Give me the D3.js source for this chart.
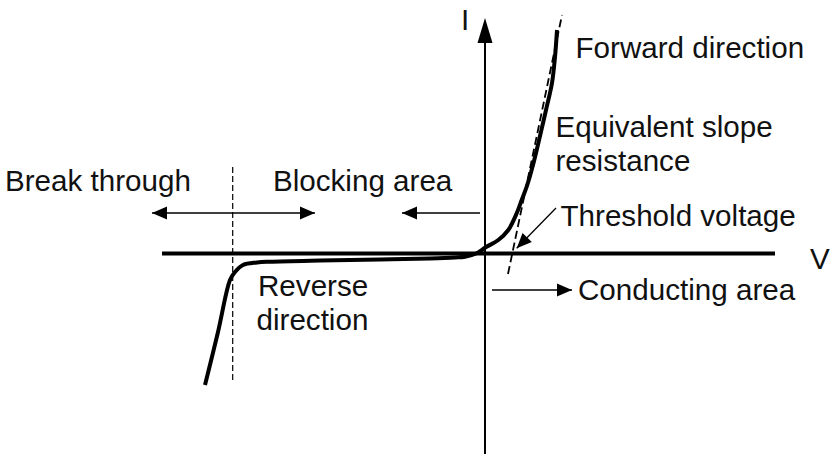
<!DOCTYPE html>
<html>
<head>
<meta charset="utf-8">
<script src="https://cdn.jsdelivr.net/npm/d3@7"></script>
<style>
  html, body { margin: 0; padding: 0; background: #fff; }
  svg { display: block; }
  text { font-family: "Liberation Sans", Arial, sans-serif; font-size: 29.6px; fill: #111; }
</style>
</head>
<body>
<svg id="chart" width="839" height="463"></svg>
<script>
// ---- data (V in arbitrary units, I in arbitrary units) ----
const curveV = [-28.05, -26.75, -25.55, -25.05, -24.25, -22.85, -21.55, -16.55, -10.55, -5.55, -3.05, -2.05, -0.88, 0.02, 1.28, 2.28, 3.12, 3.62, 4.12, 4.75, 5.45, 6.05, 6.65, 6.95, 7.15];
const curveI = [-13.15, -7.85, -2.65, -1.85, -1.15, -0.9, -0.82, -0.7, -0.6, -0.5, -0.4, -0.32, 0.02, 0.62, 1.35, 2.35, 4.02, 5.35, 6.68, 8.85, 11.75, 14.35, 17.05, 19.65, 22.35];

const tangentV = [2.25, 7.65];
const tangentI = [-2.05, 23.85];

const breakdownV = -25.28;
const breakdownI = [8.65, -12.95];

const axisV = [-32.35, 28.95];
const axisI = [-20.05, 23.55];

// arrows
const arrowNames = ["breakThrough", "blocking", "conducting", "threshold"];
const arrowFromV = [-17.05, -0.55, 0.65, 7.05];
const arrowFromI = [4.05, 4.05, -3.65, 4.55];
const arrowToV = [-33.35, -8.35, 8.65, 3.12];
const arrowToI = [4.05, 4.05, -3.65, 0.52];
const arrowDouble = [true, false, false, false];

const labels = ["I", "V", "Forward direction", "Equivalent slope", "resistance", "Break through", "Blocking area", "Threshold voltage", "Conducting area", "Reverse", "direction"];
const labelV = [-2.45, 32.45, 9.0, 7.0, 7.0, -48.05, -21.25, 7.5, 9.25, -22.75, -22.9];
const labelI = [22.35, -1.55, 19.55, 11.65, 8.25, 6.25, 6.25, 2.75, -4.65, -4.25, -7.65];

// ---- scales ----
const svg = d3.select("#chart");
const x = d3.scaleLinear().domain([-32.35, 28.95]).range([162, 775]);
const y = d3.scaleLinear().domain([-20, 23.55]).range([453.5, 18]);

// ---- axes ----
svg.append("line")
  .attr("x1", x(axisV[0])).attr("x2", x(axisV[1]))
  .attr("y1", y(0)).attr("y2", y(0))
  .attr("stroke", "#000").attr("stroke-width", 4);

const headLen = 25, headHalf = 7.5;
svg.append("line")
  .attr("x1", x(0) - 0.5).attr("x2", x(0) - 0.5)
  .attr("y1", y(axisI[0])).attr("y2", y(axisI[1]) + headLen - 2)
  .attr("stroke", "#000").attr("stroke-width", 2);
svg.append("path")
  .attr("d", `M${x(0) - 0.5},${y(axisI[1])} L${x(0) - 0.5 - headHalf},${y(axisI[1]) + headLen} L${x(0) - 0.5 + headHalf},${y(axisI[1]) + headLen} Z`)
  .attr("fill", "#000");

// breakdown dashed vertical
svg.append("line")
  .attr("x1", x(breakdownV)).attr("x2", x(breakdownV))
  .attr("y1", y(breakdownI[0])).attr("y2", y(breakdownI[1]))
  .attr("stroke", "#000").attr("stroke-width", 1.2)
  .attr("stroke-dasharray", "6,3");

// tangent dashed line
svg.append("line")
  .attr("x1", x(tangentV[0])).attr("x2", x(tangentV[1]))
  .attr("y1", y(tangentI[0])).attr("y2", y(tangentI[1]))
  .attr("stroke", "#000").attr("stroke-width", 1.8)
  .attr("stroke-dasharray", "8,4");

// I-V curve
const pts = curveV.map((v, i) => [v, curveI[i]]);
const line = d3.line().x(d => x(d[0])).y(d => y(d[1])).curve(d3.curveCatmullRom.alpha(0.5));
svg.append("path")
  .attr("d", line(pts))
  .attr("fill", "none").attr("stroke", "#000").attr("stroke-width", 4)
  .attr("stroke-linecap", "butt").attr("stroke-linejoin", "round");

// arrows
function head(px, py, qx, qy, len, half) {
  const dx = qx - px, dy = qy - py, L = Math.hypot(dx, dy);
  const ux = dx / L, uy = dy / L;
  const bx = qx - ux * len, by = qy - uy * len;
  return `M${qx},${qy} L${bx - uy * half},${by + ux * half} L${bx + uy * half},${by - ux * half} Z`;
}
arrowNames.forEach((n, i) => {
  const x1 = x(arrowFromV[i]), y1 = y(arrowFromI[i]);
  const x2 = x(arrowToV[i]), y2 = y(arrowToI[i]);
  svg.append("line").attr("x1", x1).attr("y1", y1).attr("x2", x2).attr("y2", y2)
    .attr("stroke", "#000").attr("stroke-width", 1.3);
  svg.append("path").attr("d", head(x1, y1, x2, y2, 15, 6.5)).attr("fill", "#000");
  if (arrowDouble[i]) {
    svg.append("path").attr("d", head(x2, y2, x1, y1, 15, 6.5)).attr("fill", "#000");
  }
});

// labels
labels.forEach((t, i) => {
  svg.append("text").attr("x", x(labelV[i])).attr("y", y(labelI[i])).text(t);
});
</script>
</body>
</html>
